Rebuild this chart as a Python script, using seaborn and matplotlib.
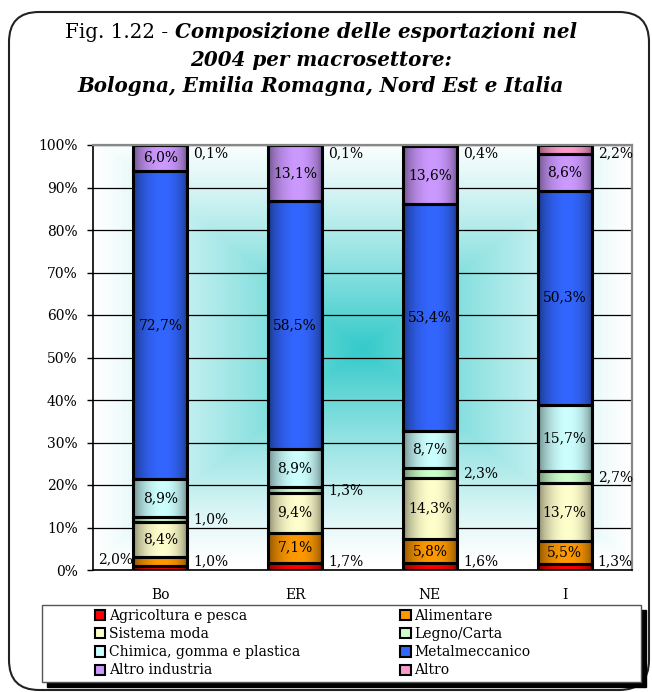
import numpy as np
import pandas as pd
import seaborn as sns
import matplotlib.pyplot as plt
from matplotlib.patches import Patch, Rectangle, FancyBboxPatch
from matplotlib.colors import to_rgb

aree = ["Bo", "ER", "NE", "I"]
settori = ["Agricoltura e pesca", "Alimentare", "Sistema moda", "Legno/Carta",
           "Chimica, gomma e plastica", "Metalmeccanico", "Altro industria", "Altro"]
agricoltura = [1.0, 1.7, 1.6, 1.3]
alimentare = [2.0, 7.1, 5.8, 5.5]
moda = [8.4, 9.4, 14.3, 13.7]
legno = [1.0, 1.3, 2.3, 2.7]
chimica = [8.9, 8.9, 8.7, 15.7]
metalmecc = [72.7, 58.5, 53.4, 50.3]
altro_ind = [6.0, 13.1, 13.6, 8.6]
altro = [0.1, 0.1, 0.4, 2.2]
colori = ["#FF0000", "#FF9900", "#FFFFCC", "#CCFFCC",
          "#CCFFFF", "#3366FF", "#CC99FF", "#FF99CC"]

valori = [agricoltura, alimentare, moda, legno, chimica, metalmecc, altro_ind, altro]
rows = []
for s, vals in zip(settori, valori):
    for i, v in enumerate(vals):
        rows.append({"x": i, "settore": s, "valore": v})
df = pd.DataFrame(rows)
palette = dict(zip(settori, colori))

# where the value label goes: inside, right or left of the bar
pos_label = {s: ["in"] * 4 for s in settori}
pos_label["Agricoltura e pesca"] = ["r"] * 4
pos_label["Legno/Carta"] = ["r"] * 4
pos_label["Altro"] = ["r"] * 4
pos_label["Alimentare"] = ["l", "in", "in", "in"]

sns.set_style("white")
plt.rcParams["font.family"] = ["DejaVu Serif"]
plt.rcParams["text.color"] = "black"
plt.rcParams["xtick.color"] = "black"
plt.rcParams["ytick.color"] = "black"
fs = 10

fig = plt.figure(figsize=(6.52, 6.92), dpi=100)
ax = fig.add_axes([93 / 652, 122 / 692, 539 / 652, 425 / 692])

# background: rectangular gradient from the centre
n = 300
u = np.linspace(0, 1, n)
U, V = np.meshgrid(u, u)
k = 1 - np.maximum(np.abs(U - 0.5), np.abs(V - 0.52)) / 0.5
k = np.clip(k, 0, 1) ** 1.15
teal = np.array(to_rgb("#2EC8C8"))
bg = 1 - (1 - teal) * k[..., None] * 0.97
ax.imshow(bg, extent=[0, 1, 0, 1], transform=ax.transAxes, aspect="auto",
          origin="lower", zorder=0)

sns.histplot(data=df, x="x", hue="settore", weights="valore", multiple="stack",
             discrete=True, shrink=0.4, hue_order=settori[::-1], palette=palette,
             edgecolor="black", linewidth=2.2, alpha=1, legend=False, ax=ax)

t = np.linspace(0, 1, 80)
prof = 0.5 + 0.5 * np.sin(np.pi * t ** 1.15) ** 0.55
for p in ax.patches:
    if not isinstance(p, Rectangle) or p.get_height() <= 0:
        continue
    fc = np.array(p.get_facecolor()[:3])
    settore = min(settori, key=lambda s: np.abs(np.array(to_rgb(palette[s])) - fc).sum())
    x0, y0, w, h = p.get_x(), p.get_y(), p.get_width(), p.get_height()
    img = (fc[None, :] * prof[:, None])[None, :, :]
    ax.imshow(img, extent=[x0, x0 + w, y0, y0 + h], aspect="auto",
              interpolation="bilinear", zorder=1.5)
    p.set_facecolor("none")
    p.set_zorder(2)
    idx = int(round(x0 + w / 2))
    txt = f"{h:.1f}".replace(".", ",") + "%"
    where = pos_label[settore][idx]
    yc = y0 + h / 2
    if where == "in":
        ax.text(x0 + w / 2, yc, txt, ha="center", va="center", fontsize=fs, zorder=3)
    elif where == "r":
        ax.text(x0 + w + 0.045, min(max(yc, 2.0), 98.0), txt, ha="left", va="center",
                fontsize=fs, zorder=3)
    else:
        ax.text(x0 - 0.005, min(max(yc + 0.6, 2.0), 98.0), txt, ha="right", va="center",
                fontsize=fs, zorder=3)

ax.set_xlim(-0.5, 3.5)
ax.set_ylim(0, 100)
ax.set_axisbelow(True)
ax.yaxis.grid(True, color="black", lw=0.9, zorder=0.5)
ax.xaxis.grid(False)
ax.set_yticks(range(0, 101, 10))
ax.set_yticklabels([f"{v}%" for v in range(0, 101, 10)], fontsize=fs)
ax.set_xticks(range(4))
ax.set_xticklabels(aree, fontsize=fs)
ax.set_xticks([-0.5, 0.5, 1.5, 2.5, 3.5], minor=True)
ax.tick_params(axis="x", which="major", length=0, pad=13)
ax.tick_params(axis="x", which="minor", length=4, width=1, direction="out", color="black")
ax.tick_params(axis="y", length=4, width=1, direction="out", color="black", pad=7, left=True)
ax.set_xlabel("")
ax.set_ylabel("")
for side in ["left", "bottom"]:
    ax.spines[side].set_color("black")
    ax.spines[side].set_linewidth(1.2)
for side in ["top", "right"]:
    ax.spines[side].set_color("#888888")
    ax.spines[side].set_linewidth(1.6)

# title, first bit regular then bold italic
tfs = 14.3
fig.canvas.draw()
r = fig.canvas.get_renderer()
t1 = fig.text(0, 1 - 32 / 692, "Fig. 1.22 - ", fontsize=tfs, va="center")
t2 = fig.text(0, 1 - 32 / 692, "Composizione delle esportazioni nel", fontsize=tfs,
              fontweight="bold", style="italic", va="center")
w1 = t1.get_window_extent(r).width
w2 = t2.get_window_extent(r).width
start = 321 - (w1 + w2) / 2
t1.set_x(start / 652)
t2.set_x((start + w1) / 652)
fig.text(321 / 652, 1 - 60 / 692, "2004 per macrosettore:", fontsize=tfs,
         fontweight="bold", style="italic", ha="center", va="center")
fig.text(321 / 652, 1 - 86 / 692, "Bologna, Emilia Romagna, Nord Est e Italia",
         fontsize=tfs, fontweight="bold", style="italic", ha="center", va="center")

# legend box with shadow
fig.patches.append(Rectangle((47 / 652, 5 / 692), 599 / 652, 77 / 692,
                             transform=fig.transFigure, facecolor="black",
                             edgecolor="black", zorder=1))
fig.patches.append(Rectangle((42 / 652, 10 / 692), 599 / 652, 77 / 692,
                             transform=fig.transFigure, facecolor="white",
                             edgecolor="#555555", lw=1, zorder=2))
ordine = settori[0::2] + settori[1::2]
handles = [Patch(facecolor=palette[s], edgecolor="black", lw=1.5) for s in ordine]
leg = fig.legend(handles, ordine, ncol=2, frameon=False, loc="upper left",
                 bbox_to_anchor=(95 / 652, 1 - 609 / 692), borderaxespad=0, borderpad=0,
                 handlelength=0.75, handleheight=0.75, handletextpad=0.25,
                 labelspacing=0.3, columnspacing=7.2, fontsize=fs)
leg.set_zorder(3)

fig.patches.append(FancyBboxPatch((0.09, 0.02), 6.40, 6.78,
                                  boxstyle="round,pad=0,rounding_size=0.3",
                                  transform=fig.dpi_scale_trans, facecolor="none",
                                  edgecolor="#222222", lw=1.5, zorder=0))

fig.savefig("out.png", dpi=100, facecolor="white")
